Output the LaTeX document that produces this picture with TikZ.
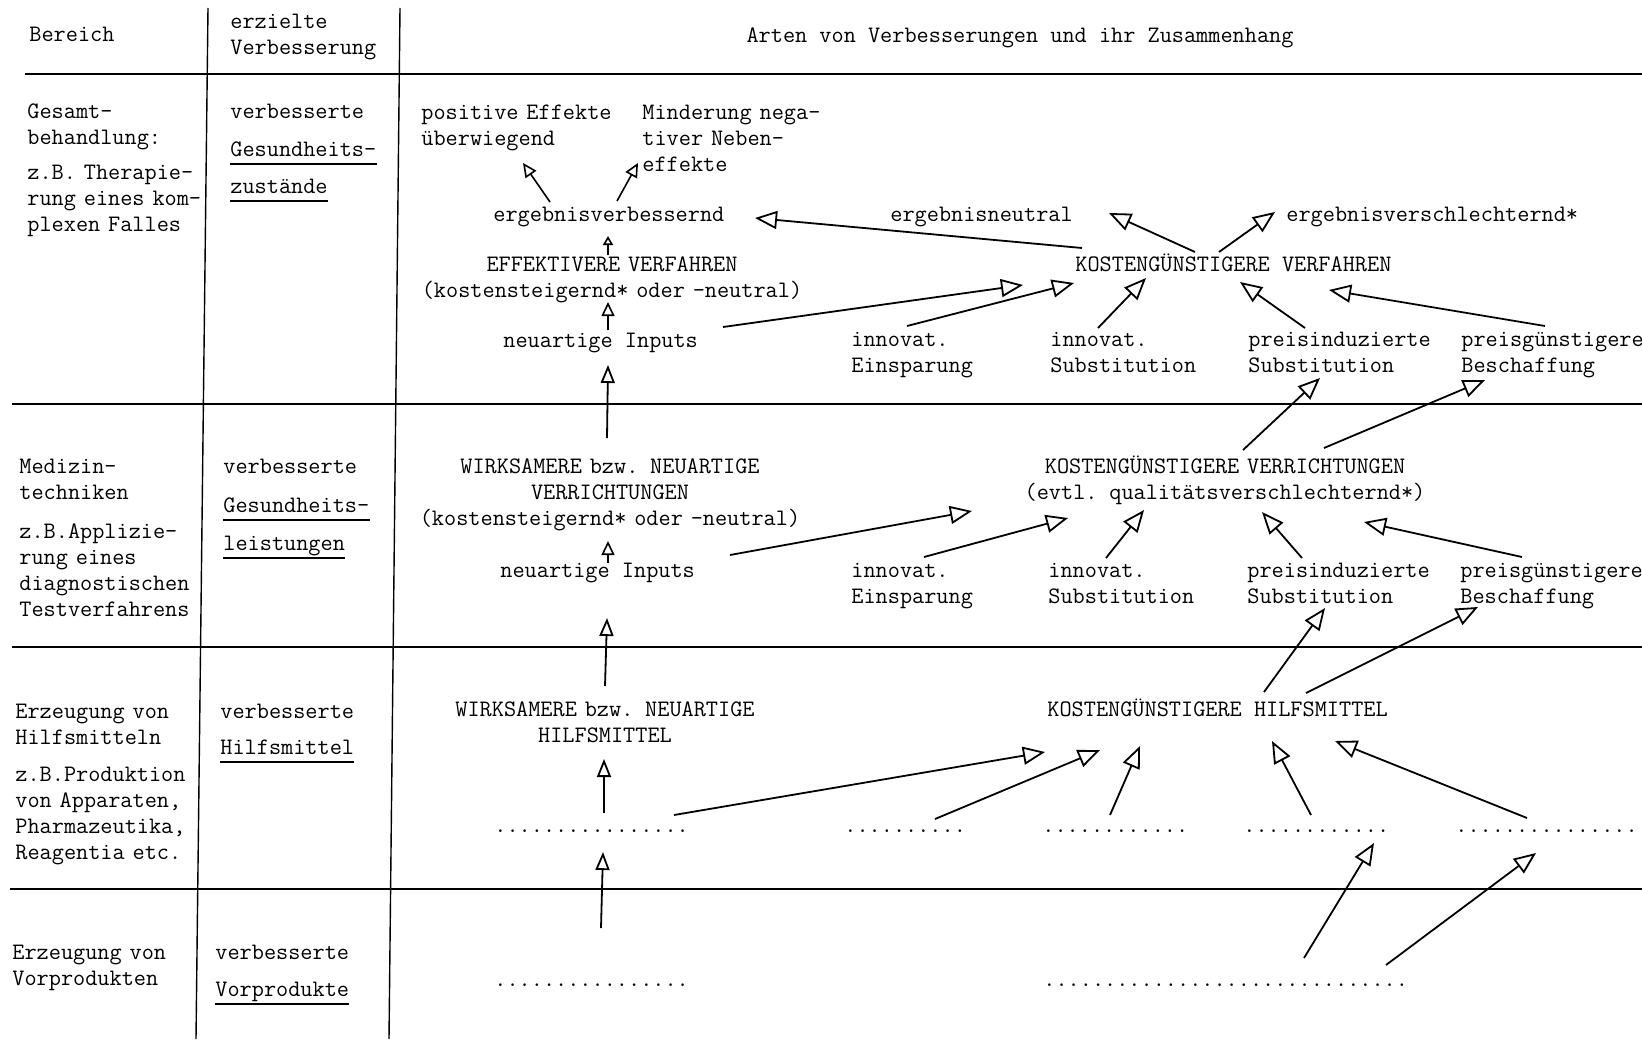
\documentclass[tikz,border=0pt]{standalone}
\usepackage{fontspec}
\usetikzlibrary{arrows.meta}
\newcommand\mytt{\fontsize{11.8pt}{13pt}\selectfont\ttfamily}
\tikzset{
 txt/.style={font=\mytt, inner sep=0pt, anchor=base west},
 ml/.style={txt, text width=105pt, align=left},
 mc/.style={font=\mytt, inner sep=0pt, anchor=base, text width=240pt, align=center},
 rule/.style={line width=1.1pt},
 vrule/.style={line width=0.7pt},
 arr/.style={line width=0.9pt, -{Triangle[open, length=11pt, width=9pt]}},
 varr/.style={line width=0.9pt, -{Triangle[open, length=9pt, width=7pt]}},
 marr/.style={line width=0.8pt, -{Triangle[open, length=7pt, width=6.5pt]}},
 sarr/.style={line width=0.8pt, -{Triangle[open, length=4.5pt, width=5pt]}},
 uline/.style={line width=0.8pt},
}
\begin{document}
\begin{tikzpicture}[x=0.5pt,y=-0.5pt]
\useasboundingbox (0,0) rectangle (1642,1039);
% table rules
\draw[rule] (25,74) -- (1642,74);
\draw[rule] (12,404) -- (1642,404);
\draw[rule] (12,647) -- (1642,647);
\draw[rule] (10,889) -- (1642,889);
\draw[vrule] (208,8) -- (196,1039);
\draw[vrule] (400,8) -- (389,1039);

% header
\node[txt] (hb) at (29,41) {Bereich};
\node[ml] (he) at (230,28) {erzielte\\Verbesserung};
\node[txt, anchor=base] (ha) at (1020,42) {Arten von Verbesserungen und ihr Zusammenhang};

% column 1
\node[ml] (b1) at (27,118) {Gesamt-\\behandlung:};
\node[ml] (b1x) at (27,179) {z.B. Therapie-\\rung eines kom-\\plexen Falles};
\node[ml] (b2) at (19,473) {Medizin-\\techniken};
\node[ml] (b2x) at (19,538) {z.B.Applizie-\\rung eines\\diagnostischen\\Testverfahrens};
\node[ml] (b3) at (15,718) {Erzeugung von\\Hilfsmitteln};
\node[ml] (b3x) at (15,781) {z.B.Produktion\\von Apparaten,\\Pharmazeutika,\\Reagentia etc.};
\node[ml] (b4) at (12,959) {Erzeugung von\\Vorprodukten};

% column 2
\node[txt] (v1) at (230,118) {verbesserte};
\node[txt] (g1) at (230,156) {Gesundheits-};
\node[txt] (g1b) at (230,193) {zustände};
\node[txt] (v2) at (223,473) {verbesserte};
\node[txt] (g2) at (223,512) {Gesundheits-};
\node[txt] (g2b) at (223,550) {leistungen};
\node[txt] (v3) at (220,718) {verbesserte};
\node[txt] (g3) at (220,754) {Hilfsmittel};
\node[txt] (v4) at (215,959) {verbesserte};
\node[txt] (g4) at (215,996) {Vorprodukte};
\foreach \n in {g1,g1b,g2,g2b,g3,g4}
  \draw[uline] ([yshift=-4pt]\n.base west) -- ([yshift=-4pt]\n.base east);

% row 1
\node[ml] (pe) at (421,119) {positive Effekte\\überwiegend};
\node[ml] (mn) at (642,119) {Minderung nega-\\tiver Neben-\\effekte};
\node[txt] (ev) at (493,221) {ergebnisverbessernd};
\node[txt] (en) at (890,221) {ergebnisneutral};
\node[txt] (es) at (1286,221) {ergebnisverschlechternd*};
\node[mc] (ef) at (612,271) {EFFEKTIVERE VERFAHREN\\(kostensteigernd* oder -neutral)};
\node[txt] (kv) at (1075,271) {KOSTENGÜNSTIGERE VERFAHREN};
\node[txt] (in1) at (503,347) {neuartige Inputs};
\node[ml] (ie1) at (851,346) {innovat.\\Einsparung};
\node[ml] (is1) at (1050,346) {innovat.\\Substitution};
\node[ml] (ps1) at (1248,346) {preisinduzierte\\Substitution};
\node[ml] (pb1) at (1461,346) {preisgünstigere\\Beschaffung};

% row 2
\node[mc] (wv) at (610,473) {WIRKSAMERE bzw. NEUARTIGE\\VERRICHTUNGEN\hspace*{16pt}\\(kostensteigernd* oder -neutral)};
\node[mc] (kvr) at (1225,473) {KOSTENGÜNSTIGERE VERRICHTUNGEN\\(evtl. qualitätsverschlechternd*)};
\node[txt] (in2) at (500,577) {neuartige Inputs};
\node[ml] (ie2) at (851,577) {innovat.\\Einsparung};
\node[ml] (is2) at (1048,577) {innovat.\\Substitution};
\node[ml] (ps2) at (1247,577) {preisinduzierte\\Substitution};
\node[ml] (pb2) at (1460,577) {preisgünstigere\\Beschaffung};

% row 3
\node[mc] (wh) at (605,716) {WIRKSAMERE bzw. NEUARTIGE\\HILFSMITTEL\hspace*{15pt}};
\node[txt] (kh) at (1047,716) {KOSTENGÜNSTIGERE HILFSMITTEL};
\node[txt] (d1) at (494,832) {................};
\node[txt] (d2) at (844,832) {..........};
\node[txt] (d3) at (1042,832) {............};
\node[txt] (d4) at (1243,832) {............};
\node[txt] (d5) at (1455,832) {...............};

% row 4
\node[txt] (d6) at (494,986) {................};
\node[txt] (d7) at (1043,986) {..............................};

% arrows row 1
\draw[marr] ([shift={(57,-19)}]ev.base west) -- ([shift={(102,44)}]pe.base west);
\draw[marr] ([shift={(124,-20)}]ev.base west) -- ([shift={(-4,44)}]mn.base west);
\draw[sarr] ([shift={(-4,-16)}]ef.base) -- ([shift={(115,15)}]ev.base west);
\draw[marr] ([shift={(105,-17)}]in1.base west) -- ([shift={(-4,31)}]ef.base);
\draw[varr] ([shift={(-3,-35)}]wv.base) -- ([shift={(105,18)}]in1.base west);
\draw[arr] ([shift={(7,-23)}]kv.base west) -- ([shift={(262,-3)}]ev.base west);
\draw[arr] ([shift={(120,-19)}]kv.base west) -- ([shift={(219,-8)}]en.base west);
\draw[arr] ([shift={(144,-19)}]kv.base west) -- ([shift={(-11,-9)}]es.base west);
\draw[arr] ([shift={(220,-20)}]in1.base west) -- ([shift={(-52,14)}]kv.base west);
\draw[arr] ([shift={(56,-20)}]ie1.base west) -- ([shift={(-1,12)}]kv.base west);
\draw[arr] ([shift={(48,-18)}]is1.base west) -- ([shift={(71,7)}]kv.base west);
\draw[arr] ([shift={(57,-18)}]ps1.base west) -- ([shift={(165,11)}]kv.base west);
\draw[arr] ([shift={(84,-20)}]pb1.base west) -- ([shift={(254,19)}]kv.base west);
\draw[arr] ([shift={(18,-23)}]kvr.base) -- ([shift={(72,32)}]ps1.base west);
\draw[arr] ([shift={(99,-25)}]kvr.base) -- ([shift={(24,34)}]pb1.base west);

% arrows row 2
\draw[marr] ([shift={(108,-14)}]in2.base west) -- ([shift={(-2,68)}]wv.base);
\draw[varr] ([shift={(0,-30)}]wh.base) -- ([shift={(107,41)}]in2.base west);
\draw[arr] ([shift={(230,-22)}]in2.base west) -- ([shift={(-253,38)}]kvr.base);
\draw[arr] ([shift={(73,-20)}]ie2.base west) -- ([shift={(-157,45)}]kvr.base);
\draw[arr] ([shift={(58,-19)}]is2.base west) -- ([shift={(-81,37)}]kvr.base);
\draw[arr] ([shift={(55,-19)}]ps2.base west) -- ([shift={(37,39)}]kvr.base);
\draw[arr] ([shift={(62,-20)}]pb2.base west) -- ([shift={(139,49)}]kvr.base);
\draw[arr] ([shift={(217,-24)}]kh.base west) -- ([shift={(78,31)}]ps2.base west);
\draw[arr] ([shift={(259,-23)}]kh.base west) -- ([shift={(18,30)}]pb2.base west);

% arrows row 3
\draw[varr] ([shift={(110,-19)}]d1.base west) -- ([shift={(-1,43)}]wh.base);
\draw[arr] ([shift={(180,-17)}]d1.base west) -- ([shift={(-2,36)}]kh.base west);
\draw[arr] ([shift={(91,-13)}]d2.base west) -- ([shift={(53,34)}]kh.base west);
\draw[arr] ([shift={(68,-17)}]d3.base west) -- ([shift={(93,30)}]kh.base west);
\draw[arr] ([shift={(68,-17)}]d4.base west) -- ([shift={(225,25)}]kh.base west);
\draw[arr] ([shift={(72,-14)}]d5.base west) -- ([shift={(288,25)}]kh.base west);
\draw[varr] ([shift={(107,-58)}]d6.base west) -- ([shift={(109,20)}]d1.base west);
\draw[arr] ([shift={(261,-28)}]d7.base west) -- ([shift={(131,11)}]d4.base west);
\draw[arr] ([shift={(343,-21)}]d7.base west) -- ([shift={(81,21)}]d5.base west);
\end{tikzpicture}
\end{document}
